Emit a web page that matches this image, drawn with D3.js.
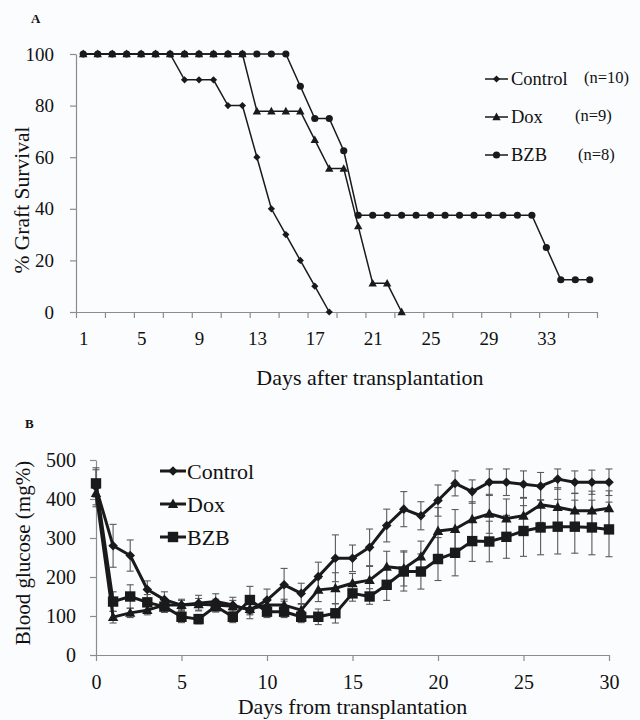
<!DOCTYPE html>
<html><head><meta charset="utf-8">
<script src="https://cdn.jsdelivr.net/npm/d3@7"></script>
<style>body{margin:0;background:#fbfcfe} text{font-family:"Liberation Serif","Times New Roman",serif;fill:#111}</style>
</head><body>
<svg id="c" width="640" height="720"></svg>
<script>
// ---------- Panel A data ----------
const survDays = [1,2,3,4,5,6,7,8,9,10,11,12,13,14,15,16,17,18,19,20,21,22,23,24,25,26,27,28,29,30,31,32,33,34,35,36];
const survControl = [100,100,100,100,100,100,100,90,90,90,80,80,60,40,30,20,10,0];
const survDox = [100,100,100,100,100,100,100,100,100,100,100,100,77.8,77.8,77.8,77.8,66.7,55.6,55.6,33.3,11.1,11.1,0];
const survBZB = [100,100,100,100,100,100,100,100,100,100,100,100,100,100,100,87.5,75,75,62.5,37.5,37.5,37.5,37.5,37.5,37.5,37.5,37.5,37.5,37.5,37.5,37.5,37.5,25,12.5,12.5,12.5];
const survXLabels = [1,5,9,13,17,21,25,29,33];
const survYTicks = [0,20,40,60,80,100];
const survLegend = ["Control","Dox","BZB"];
const survN = ["(n=10)","(n=9)","(n=8)"];

// ---------- Panel B data ----------
const bgDays = [0,1,2,3,4,5,6,7,8,9,10,11,12,13,14,15,16,17,18,19,20,21,22,23,24,25,26,27,28,29,30];
const bgControl = [430,280,255,168,142,128,133,137,128,115,141,180,158,201,248,248,276,332,374,357,396,440,419,443,443,438,433,451,443,443,443];
const bgControlErr = [50,55,40,22,20,15,20,20,20,22,28,42,26,37,60,34,47,42,45,36,40,32,30,34,34,34,35,26,29,31,34];
const bgDox = [415,97,108,115,128,128,130,128,125,118,128,128,115,167,171,184,192,226,222,252,318,323,348,362,350,357,385,379,370,370,376];
const bgDoxErr = [30,15,12,12,12,12,15,15,15,15,15,15,15,30,40,25,35,40,45,40,60,50,45,50,50,45,45,50,45,50,45];
const bgBZB = [440,137,150,135,124,98,92,125,98,141,111,111,98,98,107,158,150,180,214,214,246,262,292,291,303,318,327,329,329,327,322];
const bgBZBErr = [35,25,30,20,15,15,12,15,15,35,15,15,15,20,25,20,20,40,50,45,55,59,52,52,55,65,70,70,68,70,70];
const bgXTicks = [0,5,10,15,20,25,30];
const bgYTicks = [0,100,200,300,400,500];
const bgLegend = ["Control","Dox","BZB"];

const svg = d3.select("#c");
svg.append("rect").attr("width",640).attr("height",720).attr("fill","#fbfcfe");
const AX = "#8c8c8c", LINE = "#1a1a1a";

// marker path generators (half-width r)
function diamond(r){return `M0,${-r}L${r},0L0,${r}L${-r},0Z`;}
function triangle(r){return `M0,${-r*1.05}L${r},${r*0.75}L${-r},${r*0.75}Z`;}
function square(r){return `M${-r},${-r}H${r}V${r}H${-r}Z`;}
function circle(r){return `M${-r},0A${r},${r} 0 1,0 ${r},0A${r},${r} 0 1,0 ${-r},0Z`;}

// ================= Panel A =================
const xA = d3.scaleLinear().domain([0.5,36.5]).range([76,597]);
const yA = d3.scaleLinear().domain([0,100]).range([312,54]);

svg.append("text").attr("x",31).attr("y",22.5).attr("font-size",13).attr("font-weight","bold").text("A");

const gAy = svg.append("g").attr("transform","translate(76,0)")
  .call(d3.axisLeft(yA).tickValues(survYTicks).tickSize(6).tickPadding(16).tickSizeOuter(0));
const gAxT = svg.append("g").attr("transform","translate(0,312)")
  .call(d3.axisBottom(xA).tickValues(d3.range(0.5,37,2)).tickSize(6).tickFormat("").tickSizeOuter(0));
const gAxL = svg.append("g").attr("transform","translate(0,312)")
  .call(d3.axisBottom(xA).tickValues(survXLabels).tickSize(0).tickPadding(19.5).tickSizeOuter(0));
gAxL.select(".domain").remove();
[gAy,gAxT,gAxL].forEach(g=>{
  g.selectAll("path.domain").attr("stroke",AX).attr("stroke-width",1.2);
  g.selectAll(".tick line").attr("stroke",AX).attr("stroke-width",1.2);
  g.selectAll("text").attr("font-size",19).attr("font-family","Liberation Serif").attr("fill","#111");
});

const lineA = d3.line().x((d,i)=>xA(survDays[i])).y(d=>yA(d));
const seriesA = [
  {v:survControl, m:diamond, r:3.6},
  {v:survDox, m:triangle, r:4.2},
  {v:survBZB, m:circle, r:3.6}
];
seriesA.forEach(s=>{
  svg.append("path").attr("d",lineA(s.v)).attr("fill","none").attr("stroke",LINE).attr("stroke-width",1.5);
});
seriesA.forEach(s=>{
  svg.append("g").selectAll("path").data(s.v).join("path")
    .attr("transform",(d,i)=>`translate(${xA(survDays[i])},${yA(d)})`)
    .attr("d",s.m(s.r)).attr("fill",LINE);
});

// legend A
const legAy = [79,117,155], legAn = [[584,77],[575,115],[578,154]];
survLegend.forEach((name,i)=>{
  svg.append("line").attr("x1",485).attr("x2",508).attr("y1",legAy[i]).attr("y2",legAy[i]).attr("stroke",LINE).attr("stroke-width",1.5);
  svg.append("path").attr("transform",`translate(496.5,${legAy[i]})`).attr("d",seriesA[i].m(seriesA[i].r)).attr("fill",LINE);
  svg.append("text").attr("x",511).attr("y",legAy[i]).attr("dominant-baseline","central").attr("font-size",18.5).text(name);
  svg.append("text").attr("x",legAn[i][0]).attr("y",legAn[i][1]).attr("dominant-baseline","central").attr("font-size",16.5).text(survN[i]);
});

svg.append("text").attr("transform","translate(22,200) rotate(-90)").attr("text-anchor","middle")
  .attr("dominant-baseline","central").attr("font-size",21.5).text("% Graft Survival");
svg.append("text").attr("x",370).attr("y",385).attr("text-anchor","middle").attr("font-size",22).text("Days after transplantation");

// ================= Panel B =================
const xB = d3.scaleLinear().domain([0,30]).range([96,609]);
const yB = d3.scaleLinear().domain([0,500]).range([655,460]);

svg.append("text").attr("x",25).attr("y",427.5).attr("font-size",13).attr("font-weight","bold").text("B");

const gBy = svg.append("g").attr("transform","translate(96,0)")
  .call(d3.axisLeft(yB).tickValues(bgYTicks).tickSize(6).tickPadding(14).tickSizeOuter(0));
const gBx = svg.append("g").attr("transform","translate(0,655)")
  .call(d3.axisBottom(xB).tickValues(bgXTicks).tickSize(6).tickPadding(14).tickSizeOuter(0));
[gBy,gBx].forEach(g=>{
  g.selectAll("path.domain").attr("stroke",AX).attr("stroke-width",1.2);
  g.selectAll(".tick line").attr("stroke",AX).attr("stroke-width",1.2);
  g.selectAll("text").attr("font-size",20).attr("font-family","Liberation Serif").attr("fill","#111");
});

const seriesB = [
  {v:bgControl, e:bgControlErr, m:diamond, r:4.8},
  {v:bgDox, e:bgDoxErr, m:triangle, r:5.2},
  {v:bgBZB, e:bgBZBErr, m:square, r:5.2}
];
// error bars
seriesB.forEach(s=>{
  const g = svg.append("g").attr("stroke","#5a5a5a").attr("stroke-width",1.1);
  s.v.forEach((v,i)=>{
    const x = xB(bgDays[i]), y1 = yB(v+s.e[i]), y0 = yB(v-s.e[i]);
    g.append("line").attr("x1",x).attr("x2",x).attr("y1",y1).attr("y2",y0);
    g.append("line").attr("x1",x-3.5).attr("x2",x+3.5).attr("y1",y1).attr("y2",y1);
    g.append("line").attr("x1",x-3.5).attr("x2",x+3.5).attr("y1",y0).attr("y2",y0);
  });
});
const lineB = d3.line().x((d,i)=>xB(bgDays[i])).y(d=>yB(d));
seriesB.forEach(s=>{
  svg.append("path").attr("d",lineB(s.v)).attr("fill","none").attr("stroke",LINE).attr("stroke-width",3).attr("stroke-linejoin","round");
  svg.append("g").selectAll("path").data(s.v).join("path")
    .attr("transform",(d,i)=>`translate(${xB(bgDays[i])},${yB(d)})`)
    .attr("d",s.m(s.r)).attr("fill",LINE);
});

// legend B
const legBy = [471,504,537];
bgLegend.forEach((name,i)=>{
  svg.append("line").attr("x1",160).attr("x2",186).attr("y1",legBy[i]).attr("y2",legBy[i]).attr("stroke",LINE).attr("stroke-width",3);
  svg.append("path").attr("transform",`translate(173,${legBy[i]})`).attr("d",seriesB[i].m(seriesB[i].r)).attr("fill",LINE);
  svg.append("text").attr("x",187).attr("y",legBy[i]).attr("dominant-baseline","central").attr("font-size",22).text(name);
});

svg.append("text").attr("transform","translate(23,553) rotate(-90)").attr("text-anchor","middle")
  .attr("dominant-baseline","central").attr("font-size",21).text("Blood glucose (mg%)");
svg.append("text").attr("x",352.5).attr("y",714).attr("text-anchor","middle").attr("font-size",22).text("Days from transplantation");
</script>
</body></html>
